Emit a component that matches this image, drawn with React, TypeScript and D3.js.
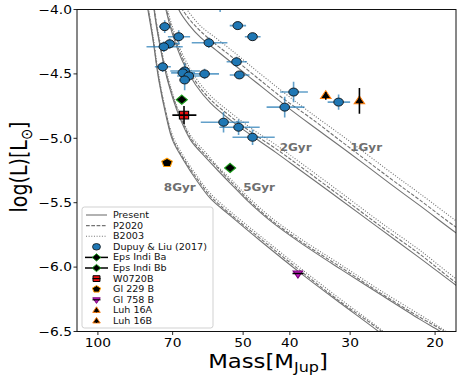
import React, { useEffect, useRef } from 'react';
import * as d3 from 'd3';

// isochrones: mass grid [M_Jup] and log(L) for Present, P2020 and B2003
const mass1Gyr = [69.0, 68.0, 64.8, 61.2, 57.0, 53.1, 47.1, 41.0, 36.3, 30.4, 24.8, 21.5, 18.1, 16.9];
const present1Gyr = [-3.92, -4.0, -4.117, -4.219, -4.313, -4.406, -4.563, -4.742, -4.891, -5.102, -5.352, -5.523, -5.734, -5.81];
const p2020_1Gyr = [-3.87, -3.95, -4.07, -4.17, -4.27, -4.36, -4.52, -4.7, -4.84, -5.06, -5.31, -5.48, -5.69, -5.76];
const b2003_1Gyr = [-3.83, -3.91, -4.02, -4.13, -4.22, -4.31, -4.47, -4.65, -4.8, -5.01, -5.26, -5.43, -5.64, -5.72];

const mass2Gyr = [73.0, 72.3, 70.0, 66.7, 62.7, 58.4, 53.1, 47.8, 42.8, 38.0, 31.4, 26.0, 21.5, 18.1, 16.9];
const present2Gyr = [-3.92, -4.0, -4.195, -4.406, -4.586, -4.727, -4.859, -4.984, -5.109, -5.25, -5.477, -5.703, -5.93, -6.141, -6.22];
const p2020_2Gyr = [-3.9, -3.98, -4.17, -4.38, -4.56, -4.7, -4.83, -4.96, -5.08, -5.22, -5.45, -5.68, -5.9, -6.12, -6.19];
const b2003_2Gyr = [-3.87, -3.95, -4.14, -4.35, -4.53, -4.67, -4.8, -4.93, -5.05, -5.19, -5.42, -5.65, -5.87, -6.09, -6.16];

const mass5Gyr = [76.7, 76.5, 74.1, 71.3, 68.0, 64.2, 59.8, 56.4, 52.6, 49.0, 43.9, 38.0, 31.4, 26.0, 21.5, 19.5, 17.8];
const present5Gyr = [-3.92, -4.0, -4.313, -4.586, -4.82, -5.016, -5.148, -5.25, -5.367, -5.484, -5.641, -5.812, -6.016, -6.211, -6.406, -6.5, -6.6];
const p2020_5Gyr = [-3.9, -3.98, -4.3, -4.57, -4.8, -5.0, -5.13, -5.23, -5.35, -5.47, -5.63, -5.8, -6.0, -6.2, -6.39, -6.48, -6.58];
const b2003_5Gyr = [-3.89, -3.97, -4.28, -4.55, -4.79, -4.98, -5.11, -5.22, -5.33, -5.45, -5.61, -5.78, -5.98, -6.18, -6.37, -6.47, -6.57];

const mass8Gyr = [79.5, 78.8, 76.9, 74.8, 72.3, 70.0, 66.4, 62.4, 58.4, 53.1, 46.0, 38.0, 31.4, 26.2, 23.6];
const present8Gyr = [-3.92, -4.0, -4.234, -4.547, -4.82, -5.016, -5.172, -5.328, -5.469, -5.602, -5.797, -6.047, -6.281, -6.5, -6.64];
const p2020_8Gyr = [-3.9, -3.98, -4.22, -4.53, -4.8, -5.0, -5.16, -5.31, -5.45, -5.59, -5.78, -6.03, -6.27, -6.48, -6.62];
const b2003_8Gyr = [-3.89, -3.97, -4.2, -4.51, -4.79, -4.98, -5.14, -5.29, -5.43, -5.57, -5.76, -6.01, -6.25, -6.47, -6.61];

const ageLabels = ['1Gyr', '2Gyr', '5Gyr', '8Gyr'];
const ageLabelMass = [30, 42, 50, 73];
const ageLabelLogL = [-5.1, -5.1, -5.41, -5.41];

// Dupuy & Liu (2017) sample
const dupuyMass = [72.7, 68.0, 71.0, 73.0, 58.9, 51.3, 47.8, 73.4, 51.6, 50.9, 66.1, 66.7, 60.1, 64.8, 66.1, 54.9, 51.1, 47.8, 39.3, 41.0, 31.7, 55.8];
const dupuyLogL = [-4.133, -4.211, -4.266, -4.289, -4.258, -4.125, -4.211, -4.445, -4.406, -4.508, -4.477, -4.492, -4.5, -4.516, -4.547, -4.875, -4.914, -4.992, -4.641, -4.758, -4.719, -3.9];
const dupuyMassErr = [2, 3.6, 3.4, 6.3, 5, 2, 1.8, 2.8, 2.5, 2.4, 4.7, 3.8, 4, 3.7, 1.6, 6.3, 4.9, 4.8, 2.6, 3.7, 1.7, 1];
const dupuyLogLErr = [0.05, 0.05, 0.04, 0.04, 0.04, 0.03, 0.03, 0.04, 0.04, 0.03, 0.06, 0.04, 0.04, 0.04, 0.08, 0.08, 0.06, 0.06, 0.08, 0.08, 0.06, 0.12];

// benchmark objects
const objNames = ['Eps Indi Ba', 'Eps Indi Bb', 'W0720B', 'Gl 229 B', 'Gl 758 B', 'Luh 16A', 'Luh 16B'];
const objMass = [67.0, 53.2, 66.3, 71.9, 38.5, 33.7, 28.7];
const objLogL = [-4.7, -5.23, -4.82, -5.19, -6.05, -4.67, -4.71];
const objMassErr = [0, 0, 3.8, 0, 1.0, 0, 0];
const objLogLErr = [0, 0, 0.07, 0, 0, 0.03, 0.1];

const xTicks = [100, 70, 50, 40, 30, 20];
const yTicks = [-4.0, -4.5, -5.0, -5.5, -6.0, -6.5];

const App = () => {
  const chartRef = useRef<SVGSVGElement>(null);

  useEffect(() => {
    const svg = d3.select(chartRef.current);
    svg.selectAll('*').remove();

    const left = 77, right = 456, top = 9.5, bottom = 331.5;
    const sx = 1.2; // the figure is a bit wider than tall
    const font = 'DejaVu Sans, sans-serif';
    const curveColor = '#737373';

    const x = d3.scaleLog().domain([110.5, 18.1]).range([left, right]);
    const y = d3.scaleLinear().domain([-6.5, -4]).range([bottom, top]);

    const text = (parent, px, py, str, size, anchor = 'start') =>
      parent
        .append('text')
        .attr('transform', `translate(${px},${py}) scale(${sx},1)`)
        .attr('text-anchor', anchor)
        .attr('font-family', font)
        .attr('font-size', size)
        .text(str);

    const shapes = {
      diamond: [[0, -1], [1, 0], [0, 1], [-1, 0]],
      square: [[-0.8, -0.8], [0.8, -0.8], [0.8, 0.8], [-0.8, 0.8]],
      pentagon: d3.range(5).map((k) => [Math.cos(-Math.PI / 2 + (k * 2 * Math.PI) / 5), Math.sin(-Math.PI / 2 + (k * 2 * Math.PI) / 5)]),
      triUp: [[0, -1], [0.87, 0.55], [-0.87, 0.55]],
      triDown: [[0, 1], [0.87, -0.55], [-0.87, -0.55]],
    };

    const marker = (parent, type, cx, cy, r, fill, stroke, sw = 1) => {
      if (type === 'circle') {
        return parent.append('ellipse').attr('cx', cx).attr('cy', cy).attr('rx', r * sx).attr('ry', r)
          .attr('fill', fill).attr('stroke', stroke).attr('stroke-width', sw);
      }
      const pts = shapes[type].map(([a, b]) => `${cx + a * r * sx},${cy + b * r}`).join(' ');
      return parent.append('polygon').attr('points', pts).attr('fill', fill).attr('stroke', stroke).attr('stroke-width', sw);
    };

    svg.append('rect').attr('width', 464).attr('height', 376).attr('fill', 'white');

    svg.append('defs').append('clipPath').attr('id', 'plotclip')
      .append('rect').attr('x', left).attr('y', top).attr('width', right - left).attr('height', bottom - top);

    const plot = svg.append('g').attr('clip-path', 'url(#plotclip)');

    // isochrones
    const isochrones = [
      { masses: mass1Gyr, models: [present1Gyr, p2020_1Gyr, b2003_1Gyr] },
      { masses: mass2Gyr, models: [present2Gyr, p2020_2Gyr, b2003_2Gyr] },
      { masses: mass5Gyr, models: [present5Gyr, p2020_5Gyr, b2003_5Gyr] },
      { masses: mass8Gyr, models: [present8Gyr, p2020_8Gyr, b2003_8Gyr] },
    ];
    const dashes = [null, '3.7,1.6', '1,1.65'];
    const line = d3.line<[number, number]>()
      .x((d) => x(d[0]))
      .y((d) => y(d[1]))
      .curve(d3.curveCatmullRom.alpha(0.5));

    isochrones.forEach((iso) => {
      iso.models.forEach((vals, m) => {
        plot.append('path')
          .attr('d', line(iso.masses.map((ms, i) => [ms, vals[i]])))
          .attr('fill', 'none')
          .attr('stroke', curveColor)
          .attr('stroke-width', 1.1)
          .attr('stroke-dasharray', dashes[m]);
      });
    });

    // Dupuy & Liu error bars then markers
    dupuyMass.forEach((ms, i) => {
      plot.append('line')
        .attr('x1', x(ms - dupuyMassErr[i])).attr('x2', x(ms + dupuyMassErr[i]))
        .attr('y1', y(dupuyLogL[i])).attr('y2', y(dupuyLogL[i]))
        .attr('stroke', '#1f77b4').attr('stroke-opacity', 0.7).attr('stroke-width', 1.6);
      plot.append('line')
        .attr('x1', x(ms)).attr('x2', x(ms))
        .attr('y1', y(dupuyLogL[i] - dupuyLogLErr[i])).attr('y2', y(dupuyLogL[i] + dupuyLogLErr[i]))
        .attr('stroke', '#1f77b4').attr('stroke-opacity', 0.7).attr('stroke-width', 1.6);
    });
    dupuyMass.forEach((ms, i) => {
      marker(plot, 'circle', x(ms), y(dupuyLogL[i]), 4, '#1f77b4', '#111', 0.9);
    });

    // benchmark objects
    const objStyle = [
      { type: 'diamond', fill: '#000', stroke: '#1a9e1a', r: 4.6 },
      { type: 'diamond', fill: '#000', stroke: '#1a9e1a', r: 4.6 },
      { type: 'square', fill: '#ee1111', stroke: '#000', r: 4.8 },
      { type: 'pentagon', fill: '#000', stroke: '#ff9a00', r: 4.6 },
      { type: 'triDown', fill: '#c020c0', stroke: '#7a007a', r: 4.6 },
      { type: 'triUp', fill: '#000', stroke: '#ff7f0e', r: 5 },
      { type: 'triUp', fill: '#000', stroke: '#ff7f0e', r: 5 },
    ];
    objMass.forEach((ms, i) => {
      const cx = x(ms), cy = y(objLogL[i]);
      const st = objStyle[i];
      marker(plot, st.type, cx, cy, st.r, st.fill, st.stroke, 1.1);
      if (objMassErr[i] > 0) {
        plot.append('line').attr('x1', x(ms - objMassErr[i])).attr('x2', x(ms + objMassErr[i]))
          .attr('y1', cy).attr('y2', cy).attr('stroke', '#000').attr('stroke-width', 1.6);
      }
      if (objLogLErr[i] > 0) {
        plot.append('line').attr('x1', cx).attr('x2', cx)
          .attr('y1', y(objLogL[i] - objLogLErr[i])).attr('y2', y(objLogL[i] + objLogLErr[i]))
          .attr('stroke', '#000').attr('stroke-width', 1.6);
      }
    });

    // age labels
    ageLabels.forEach((lab, i) => {
      text(svg, x(ageLabelMass[i]), y(ageLabelLogL[i]), lab, 10)
        .attr('font-weight', 'bold').attr('fill', '#6f6f6f');
    });

    // frame
    svg.append('rect').attr('x', left).attr('y', top).attr('width', right - left).attr('height', bottom - top)
      .attr('fill', 'none').attr('stroke', '#111').attr('stroke-width', 1);

    // ticks
    yTicks.forEach((t) => {
      svg.append('line').attr('x1', left - 3.5).attr('x2', left).attr('y1', y(t)).attr('y2', y(t))
        .attr('stroke', '#111').attr('stroke-width', 0.9);
      text(svg, left - 5, y(t) + 4.2, d3.format('.1f')(t), 11.5, 'end');
    });
    xTicks.forEach((t) => {
      svg.append('line').attr('x1', x(t)).attr('x2', x(t)).attr('y1', bottom).attr('y2', bottom + 3.5)
        .attr('stroke', '#111').attr('stroke-width', 0.9);
      text(svg, x(t), bottom + 15.5, String(t), 11.5, 'middle');
    });

    // axis labels
    const xl = text(svg, 268, 368, 'Mass[M', 19, 'middle');
    xl.append('tspan').attr('font-size', 13.3).attr('dy', 4).text('Jup');
    xl.append('tspan').attr('dy', -4).text(']');

    const yl = svg.append('text')
      .attr('transform', `translate(27,167) scale(${sx},1) rotate(-90)`)
      .attr('text-anchor', 'middle').attr('font-family', font).attr('font-size', 19)
      .text('log(L)[L');
    yl.append('tspan').attr('font-size', 13.3).attr('dy', 4).text('\u2299');
    yl.append('tspan').attr('dy', -4).text(']');

    // legend
    const lg = svg.append('g');
    lg.append('rect').attr('x', 82).attr('y', 207).attr('width', 131).attr('height', 121).attr('rx', 2.5)
      .attr('fill', 'white').attr('fill-opacity', 0.85).attr('stroke', '#cccccc').attr('stroke-width', 0.9);
    const rowY = (k) => 215 + k * 10.6;
    const legendNames = ['Present', 'P2020', 'B2003', 'Dupuy & Liu (2017)', ...objNames];
    legendNames.forEach((name, k) => {
      const ly = rowY(k);
      if (k < 3) {
        lg.append('line').attr('x1', 86).attr('x2', 107).attr('y1', ly).attr('y2', ly)
          .attr('stroke', curveColor).attr('stroke-width', 1.1).attr('stroke-dasharray', dashes[k]);
      } else if (k === 3) {
        marker(lg, 'circle', 96.5, ly, 3.3, '#1f77b4', '#111', 0.8);
      } else {
        const st = objStyle[k - 4];
        if (k === 4 || k === 5) {
          lg.append('line').attr('x1', 85).attr('x2', 108).attr('y1', ly).attr('y2', ly)
            .attr('stroke', '#000').attr('stroke-width', 1.5);
        }
        marker(lg, st.type, 96.5, ly, 3.6, st.fill, st.stroke, 1);
        if (k === 6 || k === 8) {
          lg.append('line').attr('x1', 92.5).attr('x2', 100.5).attr('y1', ly).attr('y2', ly)
            .attr('stroke', '#000').attr('stroke-width', 1.2);
        }
        if (k >= 9) {
          lg.append('line').attr('x1', 96.5).attr('x2', 96.5).attr('y1', ly - 2).attr('y2', ly + 2)
            .attr('stroke', '#000').attr('stroke-width', 1.2);
        }
      }
      text(lg, 113, ly + 3, name, 8, 'start').attr('fill', '#111');
    });
  }, []);

  return (
    <svg
      ref={chartRef}
      width={464}
      height={376}
      style={{ position: 'absolute', left: 0, top: 0 }}
    />
  );
};

export default App;
